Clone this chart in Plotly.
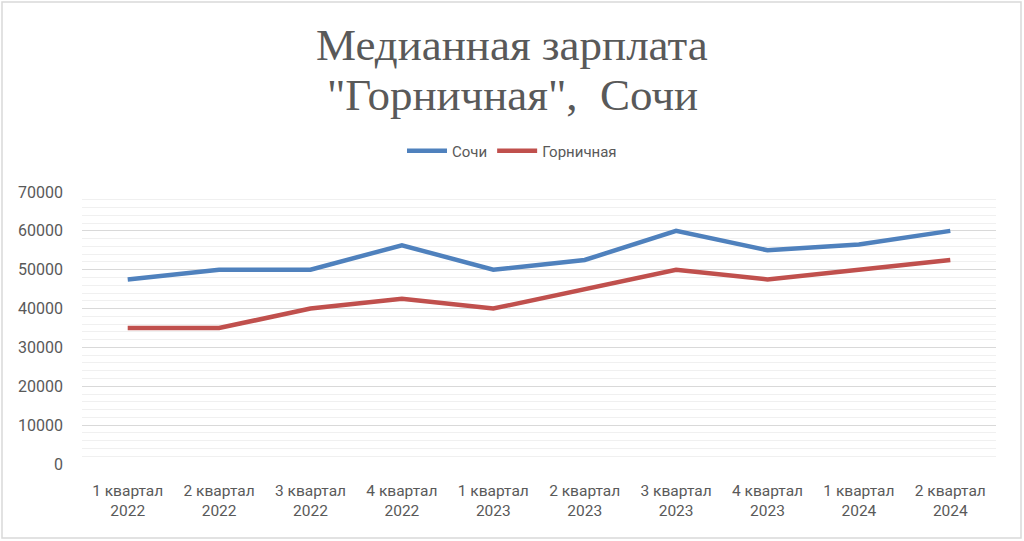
import plotly.graph_objects as go

categories = ["1 квартал<br>2022", "2 квартал<br>2022", "3 квартал<br>2022", "4 квартал<br>2022",
              "1 квартал<br>2023", "2 квартал<br>2023", "3 квартал<br>2023", "4 квартал<br>2023",
              "1 квартал<br>2024", "2 квартал<br>2024"]
sochi = [47500, 50000, 50000, 56300, 50000, 52500, 60000, 55000, 56500, 60000]
maid = [35000, 35000, 40000, 42500, 40000, 45000, 50000, 47500, 50000, 52500]
y_ticks = [0, 10000, 20000, 30000, 40000, 50000, 60000, 70000]
title_lines = ["Медианная зарплата", "\"Горничная\",  Сочи"]

W, H = 1024, 541
L, R, T, B = 82, 28, 192, 77
pw, ph = W - L - R, H - T - B

font_sans = "Liberation Sans Narrow, Roboto, Arial Narrow, sans-serif"


def py(p):
    return (H - B - p) / ph


def px(p):
    return (p - L) / pw


fig = go.Figure()
fig.add_trace(go.Scatter(x=categories, y=sochi, name="Сочи", mode="lines",
                         line=dict(color="#4F81BD", width=4.5)))
fig.add_trace(go.Scatter(x=categories, y=maid, name="Горничная", mode="lines",
                         line=dict(color="#C0504D", width=4.5)))

annotations = []
for i, (txt, yc) in enumerate(zip(title_lines, [45, 95])):
    annotations.append(dict(text=txt, x=px(512), y=py(yc), xref="paper", yref="paper",
                            xanchor="center", yanchor="middle", showarrow=False,
                            font=dict(family="Liberation Serif, DejaVu Serif, serif", size=45,
                                      color="#595959")))

fig.update_layout(
    width=W, height=H,
    margin=dict(l=L, r=R, t=T, b=B, autoexpand=False),
    paper_bgcolor="white", plot_bgcolor="white",
    annotations=annotations,
    legend=dict(orientation="h", x=0.5, xref="container", xanchor="center",
                y=1 - 151 / H, yref="container", yanchor="middle",
                font=dict(family=font_sans, size=15, color="#595959"),
                itemwidth=40, tracegroupgap=0),
    showlegend=True,
    xaxis=dict(type="category", showgrid=False, showline=False, ticks="",
               tickfont=dict(family=font_sans, size=15.5, color="#595959"),
               tickangle=0, automargin=False, ticklabelstandoff=15,
               range=[-0.5, 9.5], fixedrange=True),
    yaxis=dict(range=[0, 70000], tickvals=y_ticks, ticktext=[str(v) for v in y_ticks],
               showgrid=True, gridcolor="#D9D9D9", gridwidth=1,
               minor=dict(dtick=2000, showgrid=True, gridcolor="#F0F0F0", gridwidth=1),
               zeroline=False, showline=False, ticks="", automargin=False,
               tickfont=dict(family=font_sans, size=16, color="#595959"),
               ticklabelstandoff=18),
    shapes=[dict(type="rect", xref="paper", yref="paper",
                 x0=px(2), x1=px(W - 3), y0=py(538), y1=py(2),
                 line=dict(color="#D9D9D9", width=1.5), fillcolor="rgba(0,0,0,0)", layer="below")],
)

fig.write_html("out.html")
